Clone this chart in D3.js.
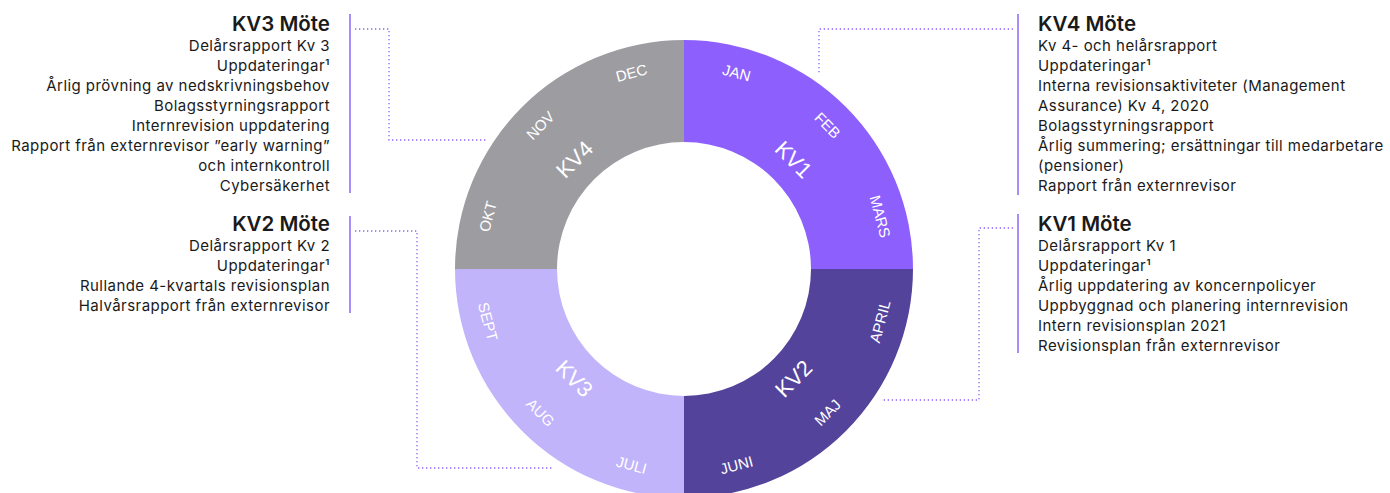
<!DOCTYPE html>
<html lang="sv">
<head>
<meta charset="UTF-8">
<title>Årshjul revisionsutskott</title>
<script src="https://d3js.org/d3.v7.min.js"></script>
<style>
  body { margin: 0; background: #fff; }
  .block text { font-family: Inter, "Noto Sans", sans-serif; fill: #1a1a1a; }
  .ring text { font-family: "Liberation Sans", Arial, sans-serif; fill: #fff; }
</style>
</head>
<body>
<svg width="1390" height="493"></svg>
<script>
// quarters and months around the wheel (clockwise from top)
const quarters = ["KV1", "KV2", "KV3", "KV4"];
const quarterColors = ["#8d5ffd", "#54439b", "#c1b4fa", "#9d9da1"];
const months = ["JAN", "FEB", "MARS", "APRIL", "MAJ", "JUNI",
                "JULI", "AUG", "SEPT", "OKT", "NOV", "DEC"];

// meeting blocks
const kv3Title = "KV3 Möte";
const kv3Items = ["Delårsrapport Kv 3", "Uppdateringar¹", "Årlig prövning av nedskrivningsbehov",
  "Bolagsstyrningsrapport", "Internrevision uppdatering",
  "Rapport från externrevisor ”early warning”", "och internkontroll", "Cybersäkerhet"];
const kv2Title = "KV2 Möte";
const kv2Items = ["Delårsrapport Kv 2", "Uppdateringar¹", "Rullande 4-kvartals revisionsplan",
  "Halvårsrapport från externrevisor"];
const kv4Title = "KV4 Möte";
const kv4Items = ["Kv 4- och helårsrapport", "Uppdateringar¹", "Interna revisionsaktiviteter (Management",
  "Assurance) Kv 4, 2020", "Bolagsstyrningsrapport", "Årlig summering; ersättningar till medarbetare",
  "(pensioner)", "Rapport från externrevisor"];
const kv1Title = "KV1 Möte";
const kv1Items = ["Delårsrapport Kv 1", "Uppdateringar¹", "Årlig uppdatering av koncernpolicyer",
  "Uppbyggnad och planering internrevision", "Intern revisionsplan 2021",
  "Revisionsplan från externrevisor"];

const svg = d3.select("svg");
const cx = 684, cy = 269, outerR = 229, innerR = 127;
const accent = "#a98bfb", dotColor = "#8d5ffd";

// ---- ring ----
const ring = svg.append("g").attr("class", "ring")
  .attr("transform", `translate(${cx},${cy})`);

const pie = d3.pie().sort(null).value(1);
const arc = d3.arc().innerRadius(innerR).outerRadius(outerR);

ring.selectAll("path.q")
  .data(pie(quarters))
  .enter().append("path")
  .attr("class", "q")
  .attr("d", arc)
  .attr("fill", (d, i) => quarterColors[i]);

// rotate text so it follows the ring and stays readable
function placeLabel(angleDeg, r) {
  const a = angleDeg * Math.PI / 180;
  const x = r * Math.sin(a), y = -r * Math.cos(a);
  const rot = (angleDeg > 90 && angleDeg < 270) ? angleDeg - 180 : (angleDeg > 270 ? angleDeg - 360 : angleDeg);
  return `translate(${x},${y}) rotate(${rot})`;
}

const monthAngle = d3.scaleBand().domain(months).range([0, 360]);
ring.selectAll("text.m")
  .data(months)
  .enter().append("text")
  .attr("class", "m")
  .attr("transform", d => placeLabel(monthAngle(d) + monthAngle.bandwidth() / 2, 203))
  .attr("text-anchor", "middle")
  .attr("dy", "0.35em")
  .style("font-size", "15px")
  .text(d => d);

const quarterAngle = d3.scaleBand().domain(quarters).range([0, 360]);
ring.selectAll("text.k")
  .data(quarters)
  .enter().append("text")
  .attr("class", "k")
  .attr("transform", d => placeLabel(quarterAngle(d) + quarterAngle.bandwidth() / 2, 155))
  .attr("text-anchor", "middle")
  .attr("dy", "0.35em")
  .style("font-size", "22px")
  .text(d => d);

// ---- text blocks ----
function block(title, items, x, y, anchor) {
  const g = svg.append("g").attr("class", "block");
  g.append("text")
    .attr("x", x).attr("y", y)
    .attr("text-anchor", anchor)
    .style("font-size", "20.5px").style("font-weight", 600)
    .text(title);
  g.selectAll("text.item")
    .data(items)
    .enter().append("text")
    .attr("class", "item")
    .attr("x", x).attr("y", (d, i) => y + 20 + i * 20)
    .attr("text-anchor", anchor)
    .style("font-size", "15px")
    .style("letter-spacing", "0.45px")
    .text(d => d);
}

block(kv3Title, kv3Items, 330, 31, "end");
block(kv2Title, kv2Items, 330, 231, "end");
block(kv4Title, kv4Items, 1038, 31, "start");
block(kv1Title, kv1Items, 1038, 231, "start");

// accent bars
const bars = [[350, 14, 193], [350, 216, 313], [1018, 14, 195], [1018, 214, 353]];
svg.selectAll("line.bar")
  .data(bars)
  .enter().append("line")
  .attr("x1", d => d[0]).attr("x2", d => d[0])
  .attr("y1", d => d[1]).attr("y2", d => d[2])
  .attr("stroke", accent).attr("stroke-width", 2);

// dotted connectors
const connectors = [
  [[355, 29], [389, 29], [389, 140], [487, 140]],
  [[355, 231], [417, 231], [417, 468], [553, 468]],
  [[1013, 29], [819, 29], [819, 74]],
  [[1013, 228], [979, 228], [979, 400], [883, 400]]
];
svg.selectAll("path.conn")
  .data(connectors)
  .enter().append("path")
  .attr("d", d3.line())
  .attr("fill", "none")
  .attr("stroke", dotColor)
  .attr("stroke-width", 1.3)
  .attr("stroke-dasharray", "1.3,2.7");
</script>
</body>
</html>
